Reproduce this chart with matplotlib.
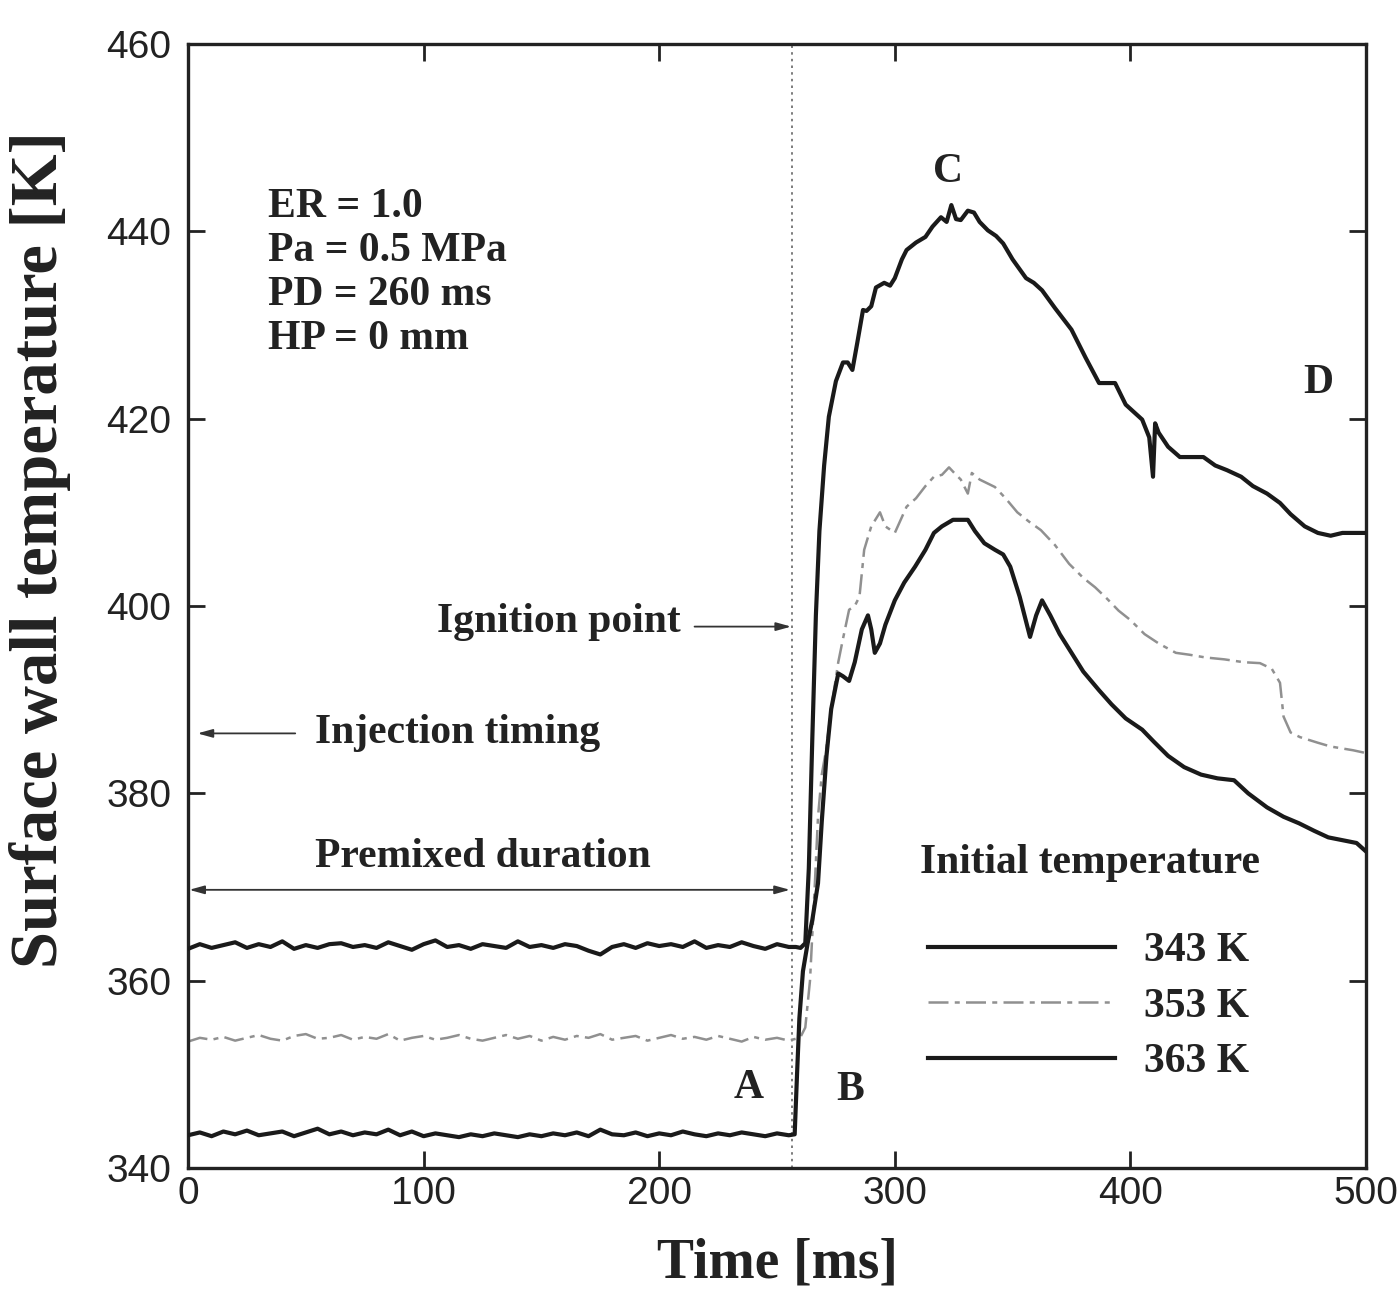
import matplotlib
matplotlib.use('Agg')
import matplotlib.pyplot as plt

# ---------------------------------------------------------------------------
# data
t_base = list(range(0, 260, 5))

T363_base = [363.4, 363.9, 363.5, 363.8, 364.1, 363.5, 363.9, 363.6, 364.2, 363.4,
             363.8, 363.5, 363.9, 364.0, 363.6, 363.8, 363.5, 364.1, 363.7, 363.3,
             363.9, 364.3, 363.6, 363.8, 363.4, 363.9, 363.7, 363.5, 364.2, 363.6,
             363.8, 363.5, 363.9, 363.7, 363.2, 362.8, 363.6, 363.9, 363.5, 364.0,
             363.7, 363.9, 363.6, 364.2, 363.5, 363.8, 363.6, 364.1, 363.7, 363.4,
             363.9, 363.6]
T353_base = [353.5, 353.9, 353.7, 354.0, 353.6, 353.9, 354.2, 353.8, 353.6, 354.1,
             354.3, 353.8, 353.9, 354.2, 353.7, 354.0, 353.8, 354.3, 353.6, 353.9,
             354.1, 353.7, 353.9, 354.2, 353.8, 353.6, 353.9, 354.2, 353.8, 354.1,
             353.6, 354.0, 353.7, 354.1, 353.9, 354.3, 353.7, 353.9, 354.1, 353.6,
             353.9, 354.2, 353.8, 354.0, 353.7, 354.1, 353.8, 353.5, 354.0, 353.7,
             353.9, 353.6]
T343_base = [343.5, 343.8, 343.4, 343.9, 343.6, 344.0, 343.5, 343.7, 343.9, 343.4,
             343.8, 344.2, 343.6, 343.9, 343.5, 343.8, 343.6, 344.1, 343.5, 343.9,
             343.4, 343.7, 343.5, 343.3, 343.6, 343.4, 343.7, 343.5, 343.3, 343.6,
             343.4, 343.7, 343.5, 343.8, 343.4, 344.1, 343.6, 343.5, 343.8, 343.4,
             343.7, 343.5, 343.9, 343.6, 343.4, 343.7, 343.5, 343.8, 343.6, 343.4,
             343.7, 343.5]

# after ignition
t363_hot = [258, 260, 262, 263.5, 265, 266.5, 268, 270, 272, 275, 278, 280, 282, 284,
            286.5, 288, 290, 292, 295.5, 298, 300, 303, 305, 309, 313, 316, 319.6, 322,
            324, 326, 328, 331, 333.6, 336, 339.5, 343, 346, 350, 355.7, 359, 362.5, 368,
            375, 381, 386.7, 390, 393.5, 398, 405, 408, 409.6, 410.5, 412, 416, 421, 426,
            431, 436, 441, 447, 452, 458, 463.5, 468, 474, 479.6, 485, 490, 500]
T363_hot = [363.6, 363.5, 364.0, 372.0, 386.0, 399.0, 408.0, 415.0, 420.2, 424.0, 426.0,
            426.0, 425.2, 428.0, 431.6, 431.5, 432.0, 434.0, 434.5, 434.2, 435.0, 437.0,
            438.0, 438.8, 439.4, 440.5, 441.5, 441.0, 442.8, 441.3, 441.2, 442.2, 442.0,
            441.0, 440.1, 439.5, 438.7, 437.0, 435.0, 434.5, 433.7, 431.8, 429.5, 426.5,
            423.8, 423.8, 423.8, 421.5, 419.9, 418.0, 413.8, 419.5, 418.5, 417.0, 415.9,
            415.9, 415.9, 415.0, 414.5, 413.8, 412.8, 412.0, 411.0, 409.8, 408.5, 407.8,
            407.5, 407.8, 407.8]

t353_hot = [258, 260, 262, 264, 266, 267.4, 269, 270.8, 273, 276, 278, 280.6, 283, 285,
            287, 290, 293.7, 296, 300, 305, 309, 313, 316.6, 320, 323, 326, 328, 331,
            332.7, 336, 342.5, 347, 352, 357, 362, 368, 374, 380, 385, 390, 395, 400, 406,
            412, 419.3, 425, 432, 440, 448, 455, 460, 463.5, 465, 468, 472, 479.6, 485,
            494.5, 500]
T353_hot = [353.8, 354.0, 355.0, 360.0, 370.0, 377.5, 382.0, 384.6, 389.0, 394.0, 396.5,
            399.6, 400.0, 401.0, 406.0, 408.5, 410.0, 408.5, 407.8, 410.6, 411.5, 412.8,
            413.8, 414.0, 414.8, 414.0, 413.5, 412.0, 414.2, 413.5, 412.7, 411.5, 410.0,
            409.0, 408.1, 406.5, 404.5, 403.0, 402.0, 400.8, 399.5, 398.5, 397.0, 396.0,
            395.0, 394.8, 394.5, 394.3, 394.0, 393.9, 393.3, 391.8, 388.2, 386.5, 386.0,
            385.4, 385.0, 384.6, 384.3]

t343_hot = [257.5, 258.5, 259.5, 261, 263, 265, 267.4, 269, 271, 273, 276, 278, 280.6,
            283, 286, 288.6, 290, 291.5, 293.7, 296, 300, 304, 308.6, 313, 316.6, 320,
            324.7, 328, 331, 334, 338, 342.5, 346, 349, 353, 357.4, 360, 362.5, 366, 370,
            375, 380, 386.7, 392, 398, 405, 410, 416, 422.8, 430, 437, 444, 450, 458, 465,
            471.6, 478, 484, 490, 496, 500]
T343_hot = [343.6, 350.0, 356.0, 361.0, 364.0, 366.5, 370.4, 377.0, 384.0, 389.0, 392.8,
            392.5, 392.0, 394.0, 397.5, 399.0, 397.5, 395.0, 396.0, 398.0, 400.6, 402.5,
            404.2, 406.0, 407.8, 408.5, 409.2, 409.2, 409.2, 408.0, 406.7, 406.0, 405.5,
            404.2, 401.0, 396.7, 399.0, 400.6, 399.0, 397.0, 395.0, 393.0, 391.0, 389.5,
            388.0, 386.8, 385.5, 384.0, 382.8, 382.0, 381.6, 381.4, 380.0, 378.5, 377.5,
            376.8, 376.0, 375.3, 375.0, 374.7, 373.8]

labels = ['343 K', '353 K', '363 K']
ignition_t = 256.5

# ---------------------------------------------------------------------------
serif = ['Liberation Serif', 'DejaVu Serif']
sans = ['Liberation Sans', 'DejaVu Sans']

fig = plt.figure(figsize=(13.97, 13.08), dpi=100)
ax = fig.add_axes([0.1346, 0.1070, 0.9778 - 0.1346, 0.9664 - 0.1070])

l343, = ax.plot(t_base + t343_hot, T343_base + T343_hot, color='#1a1a1a', lw=3.0,
                label=labels[0], zorder=3)
l353, = ax.plot(t_base + t353_hot, T353_base + T353_hot, color='#909090', lw=1.8,
                ls=(0, (8, 2.5, 2, 2.5)), label=labels[1], zorder=2)
l363, = ax.plot(t_base + t363_hot, T363_base + T363_hot, color='#1a1a1a', lw=3.0,
                label=labels[2], zorder=3)

ax.axvline(ignition_t, color='#666666', lw=1.2, ls=(0, (1.5, 2.5)), zorder=1)

ax.set_xlim(0, 500)
ax.set_ylim(340, 460)
ax.set_xticks([0, 100, 200, 300, 400, 500])
ax.set_yticks([340, 360, 380, 400, 420, 440, 460])
ax.tick_params(direction='in', length=12, width=2, top=True, right=True,
               labelsize=28, colors='#222222')
ax.tick_params(axis='x', pad=6)
ax.tick_params(axis='y', pad=12)
for lab in ax.get_xticklabels() + ax.get_yticklabels():
    lab.set_fontfamily(sans)
for s in ax.spines.values():
    s.set_linewidth(2.4)
    s.set_color('#222222')

ax.set_xlabel('Time [ms]', fontsize=40, fontweight='bold', family=serif,
              color='#222222', labelpad=18)
ax.set_ylabel('Surface wall temperature [K]', fontsize=48, fontweight='bold',
              family=serif, color='#222222')
ax.yaxis.set_label_coords(-0.099, 0.55)

tk = dict(fontsize=30, fontweight='bold', family=serif, color='#222222')
ax.text(34, 444.6, 'ER = 1.0\nPa = 0.5 MPa\nPD = 260 ms\nHP = 0 mm',
        va='top', ha='left', linespacing=1.2, **tk)
ax.text(209, 398.3, 'Ignition point', ha='right', va='center', **tk)
ax.text(54, 386.4, 'Injection timing', ha='left', va='center', **tk)
ax.text(54, 373.2, 'Premixed duration', ha='left', va='center', **tk)
ax.text(310.5, 372.6, 'Initial temperature', ha='left', va='center', **tk)
ax.text(322.6, 446.3, 'C', ha='center', va='center', **tk)
ax.text(479.6, 423.8, 'D', ha='center', va='center', **tk)
ax.text(238, 348.5, 'A', ha='center', va='center', **tk)
ax.text(281, 348.3, 'B', ha='center', va='center', **tk)

arr = dict(arrowstyle='-|>,head_length=0.9,head_width=0.25', color='#333333', lw=1.3,
           shrinkA=0, shrinkB=0)
ax.annotate('', xy=(256, 397.8), xytext=(215, 397.8), arrowprops=arr)
ax.annotate('', xy=(4, 386.4), xytext=(45.5, 386.4), arrowprops=arr)
ax.annotate('', xy=(255.5, 369.7), xytext=(0.5, 369.7),
            arrowprops=dict(arrowstyle='<|-|>,head_length=0.9,head_width=0.25',
                            color='#333333', lw=1.3, shrinkA=0, shrinkB=0))

leg = ax.legend(handles=[l343, l353, l363], loc='upper left',
                bbox_to_anchor=(0.628, 0.21), frameon=False, borderpad=0,
                borderaxespad=0, handlelength=4.5, handletextpad=0.7,
                labelspacing=0.42, prop=dict(family=serif, weight='bold', size=30))
for txt in leg.get_texts():
    txt.set_color('#222222')

fig.savefig('out.png', dpi=100)
